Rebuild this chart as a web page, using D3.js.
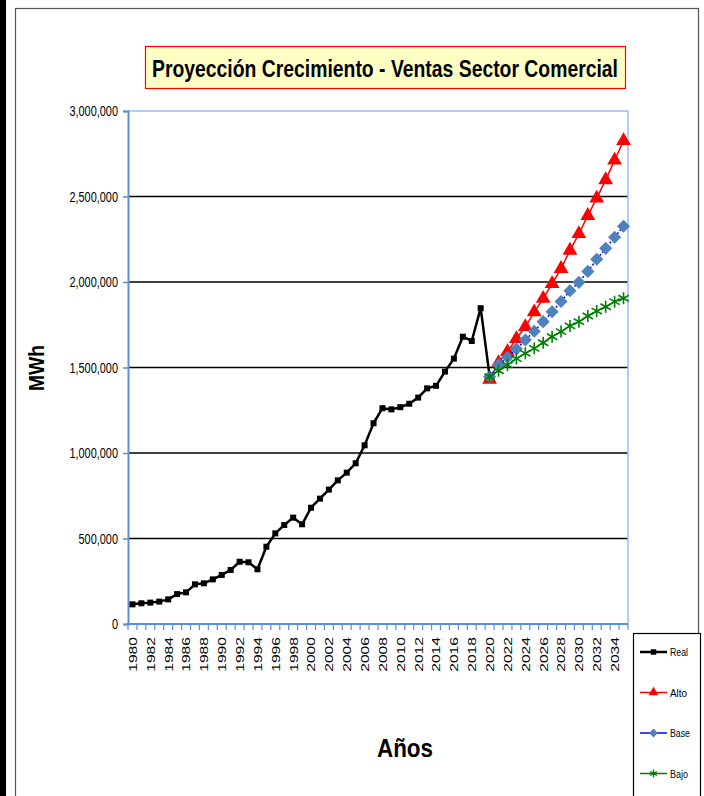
<!DOCTYPE html>
<html>
<head>
<meta charset="utf-8">
<script src="https://cdn.jsdelivr.net/npm/d3@7"></script>
<style>
  body { margin: 0; background: #fff; }
  svg { display: block; }
</style>
</head>
<body>
<script>
var years = d3.range(1980, 2036);
var realYears = d3.range(1980, 2021);
var projYears = d3.range(2020, 2036);
var realValues = [115000, 121000, 125000, 131000, 144000, 175000, 185000, 232000, 238000, 261000,
    287000, 316000, 364000, 361000, 320000, 452000, 530000, 579000, 622000, 583000,
    680000, 733000, 786000, 840000, 885000, 940000, 1045000, 1174000, 1262000, 1255000,
    1268000, 1288000, 1324000, 1378000, 1393000, 1476000, 1552000, 1680000, 1655000, 1847000,
    1450000];
var altoValues = [1430000, 1528000, 1592000, 1668000, 1738000, 1824000, 1903000, 1990000, 2078000, 2185000,
    2282000, 2388000, 2490000, 2597000, 2712000, 2826000];
var baseValues = [1446000, 1515000, 1560000, 1608000, 1661000, 1712000, 1768000, 1826000, 1886000, 1949000,
    1998000, 2062000, 2133000, 2197000, 2262000, 2326000];
var bajoValues = [1446000, 1481000, 1515000, 1552000, 1583000, 1612000, 1645000, 1680000, 1710000, 1743000,
    1768000, 1801000, 1830000, 1855000, 1885000, 1905000];
var yTicks = [0, 500000, 1000000, 1500000, 2000000, 2500000, 3000000];
var xTickLabels = d3.range(1980, 2036, 2);
var legendNames = ["Real", "Alto", "Base", "Bajo"];

var arial = "'Liberation Sans', Arial, sans-serif";

var width = 704, height = 796;
var plot = { left: 128, right: 628, top: 111, bottom: 624 };

var svg = d3.select("body").append("svg")
    .attr("width", width)
    .attr("height", height);

// outer frame
svg.append("rect").attr("x", 0).attr("y", 0).attr("width", 6).attr("height", height).attr("fill", "#000");
svg.append("rect")
    .attr("x", 15.5).attr("y", 8.5)
    .attr("width", 683).attr("height", 800)
    .attr("fill", "none").attr("stroke", "#555").attr("stroke-width", 1.2);

// title
svg.append("rect")
    .attr("x", 145.5).attr("y", 46.5).attr("width", 480).attr("height", 42)
    .attr("fill", "#ffffc4").attr("stroke", "#ff0000").attr("stroke-width", 1.2);
svg.append("text")
    .attr("x", 385).attr("y", 77)
    .attr("text-anchor", "middle")
    .attr("font-family", arial).attr("font-weight", "bold").attr("font-size", 23)
    .attr("textLength", 466).attr("lengthAdjust", "spacingAndGlyphs")
    .text("Proyección Crecimiento - Ventas Sector Comercial");

var x = d3.scalePoint().domain(years).range([plot.left, plot.right]).padding(0.5);
var xBand = d3.scaleBand().domain(years).range([plot.left, plot.right]);
var y = d3.scaleLinear().domain([0, 3000000]).range([plot.bottom, plot.top]);

// gridlines
svg.append("g").selectAll("line")
    .data(yTicks.filter(d => d > 0 && d < 3000000))
    .join("line")
    .attr("x1", plot.left).attr("x2", plot.right)
    .attr("y1", d => y(d)).attr("y2", d => y(d))
    .attr("stroke", "#000").attr("stroke-width", 1.5);

// plot border right/top
svg.append("line").attr("x1", plot.right).attr("x2", plot.right).attr("y1", plot.top).attr("y2", plot.bottom)
    .attr("stroke", "#9cbdf0").attr("stroke-width", 1.5);
svg.append("line").attr("x1", plot.left).attr("x2", plot.right).attr("y1", plot.top).attr("y2", plot.top)
    .attr("stroke", "#9cbdf0").attr("stroke-width", 1.5);

// y axis
var yAxis = svg.append("g")
    .attr("transform", "translate(" + plot.left + ",0)")
    .call(d3.axisLeft(y).tickValues(yTicks).tickSize(5).tickFormat(d3.format(",")));
yAxis.select(".domain").attr("stroke", "#5b8fd6").attr("stroke-width", 2);
yAxis.selectAll(".tick line").attr("stroke", "#5b8fd6").attr("stroke-width", 1.5);
yAxis.selectAll(".tick text")
    .attr("font-family", arial).attr("font-size", 14).attr("fill", "#000")
    .attr("x", 0).attr("dy", "0.35em")
    .attr("transform", "translate(-10,0) scale(0.78,1)");

// x axis
var xAxis = svg.append("g")
    .attr("transform", "translate(0," + plot.bottom + ")")
    .call(d3.axisBottom(x).tickValues(xTickLabels).tickSize(0).tickFormat(d3.format("d")));
xAxis.select(".domain").remove();
xAxis.selectAll(".tick text")
    .attr("font-family", arial).attr("font-size", 11).attr("fill", "#000")
    .attr("text-anchor", "end").attr("y", 0).attr("x", 0).attr("dy", "0.35em")
    .attr("transform", "translate(0,13) rotate(-90) scale(1.42,1)");
svg.append("g").selectAll("line")
    .data(years.concat(["end"]))
    .join("line")
    .attr("x1", d => d === "end" ? plot.right : xBand(d))
    .attr("x2", d => d === "end" ? plot.right : xBand(d))
    .attr("y1", plot.bottom).attr("y2", plot.bottom + 6)
    .attr("stroke", "#5b8fd6").attr("stroke-width", 1.2);
svg.append("line").attr("x1", plot.left - 1).attr("x2", plot.right).attr("y1", plot.bottom).attr("y2", plot.bottom)
    .attr("stroke", "#5b8fd6").attr("stroke-width", 2);

// axis titles
svg.append("text")
    .attr("transform", "translate(44,368) rotate(-90)")
    .attr("text-anchor", "middle")
    .attr("font-family", arial).attr("font-weight", "bold").attr("font-size", 22)
    .attr("textLength", 46).attr("lengthAdjust", "spacingAndGlyphs")
    .text("MWh");
svg.append("text")
    .attr("x", 405).attr("y", 757)
    .attr("text-anchor", "middle")
    .attr("font-family", arial).attr("font-weight", "bold").attr("font-size", 25)
    .attr("textLength", 56).attr("lengthAdjust", "spacingAndGlyphs")
    .text("Años");

// markers
var markers = {
    Real: { color: "#000", line: "#000", width: 2.5, dash: null, symbol: d3.symbolSquare, size: 36, kind: "fill", label: 18 },
    Alto: { color: "#ff0000", line: "#ff0000", width: 1.5, dash: null, symbol: d3.symbolTriangle, size: 95, kind: "fill", label: 17 },
    Base: { color: "#4f81bd", line: "#0000ff", width: 1.5, dash: "2,2", symbol: d3.symbolDiamond2, size: 110, kind: "fill", label: 20 },
    Bajo: { color: "#008000", line: "#008000", width: 1.5, dash: null, symbol: d3.symbolAsterisk, size: 100, kind: "stroke", label: 18 }
};

function drawSeries(name, yrs, vals) {
    var m = markers[name];
    var pts = yrs.map((yr, i) => [x(yr), y(vals[i])]);
    var path = svg.append("path")
        .attr("d", d3.line()(pts))
        .attr("fill", "none").attr("stroke", m.line).attr("stroke-width", m.width)
        .attr("stroke-linejoin", "round");
    if (m.dash) path.attr("stroke-dasharray", m.dash);
    svg.append("g").selectAll("path")
        .data(pts)
        .join("path")
        .attr("transform", d => "translate(" + d[0] + "," + d[1] + ")")
        .attr("d", d3.symbol().type(m.symbol).size(m.size))
        .attr("fill", m.kind === "fill" ? m.color : "none")
        .attr("stroke", m.color)
        .attr("stroke-width", m.kind === "fill" ? 0 : 1.6);
}

drawSeries("Real", realYears, realValues);
drawSeries("Alto", projYears, altoValues);
drawSeries("Base", projYears, baseValues);
drawSeries("Bajo", projYears, bajoValues);

// legend
var legend = svg.append("g");
legend.append("rect")
    .attr("x", 633.5).attr("y", 633.5).attr("width", 67).attr("height", 170)
    .attr("fill", "#fff").attr("stroke", "#000").attr("stroke-width", 1.2);
legendNames.forEach(function (name, i) {
    var m = markers[name];
    var ly = 652 + i * 40.5;
    legend.append("line")
        .attr("x1", 640).attr("x2", 667).attr("y1", ly).attr("y2", ly)
        .attr("stroke", m.line).attr("stroke-width", name === "Real" ? 2.5 : 1.5);
    legend.append("path")
        .attr("transform", "translate(653.5," + ly + ")")
        .attr("d", d3.symbol().type(m.symbol).size(name === "Real" ? 30 : m.size * 0.45))
        .attr("fill", m.kind === "fill" ? m.color : "none")
        .attr("stroke", m.color)
        .attr("stroke-width", m.kind === "fill" ? 0 : 1.4);
    legend.append("text")
        .attr("x", 670).attr("y", ly).attr("dy", "0.38em")
        .attr("font-family", arial).attr("font-size", 11)
        .attr("textLength", m.label).attr("lengthAdjust", "spacingAndGlyphs")
        .text(name);
});
</script>
</body>
</html>
